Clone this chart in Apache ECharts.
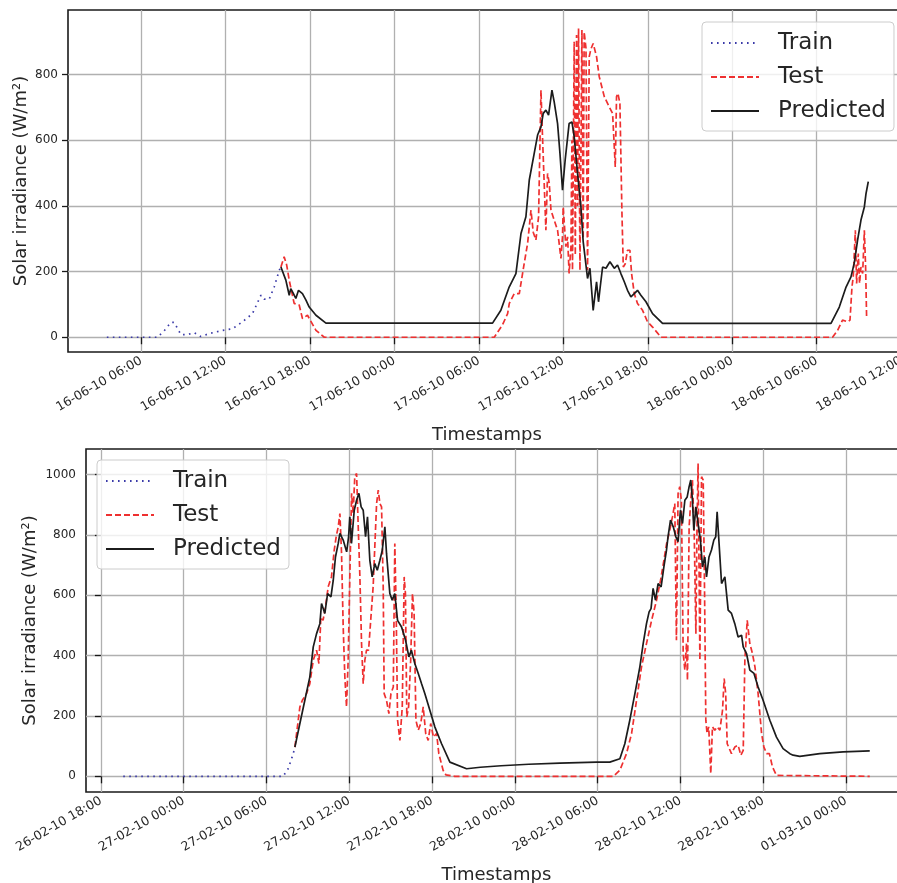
<!DOCTYPE html>
<html><head><meta charset="utf-8">
<script src="https://cdn.jsdelivr.net/npm/echarts@6/dist/echarts.min.js"></script>
<style>html,body{margin:0;padding:0;background:#fff}#c{width:897px;height:883px}</style>
</head><body><div id="c"></div>
<script>
// ===== Top chart (hours since 16-06-10 00:00) =====
const topTickHours = [6, 12, 18, 24, 30, 36, 42, 48, 54, 60];
const topTickLabels = ['16-06-10 06:00','16-06-10 12:00','16-06-10 18:00','17-06-10 00:00','17-06-10 06:00','17-06-10 12:00','17-06-10 18:00','18-06-10 00:00','18-06-10 06:00','18-06-10 12:00'];
const topYTicks = [0, 200, 400, 600, 800];

const tTrainTop = [3.56, 7.16, 7.64, 8.11, 8.35, 8.82, 9.29, 9.77, 10.24, 10.83, 11.78, 12.49, 13.2, 13.91, 14.51, 14.74, 15.1, 15.45, 15.81, 15.93];
const vTrainTop = [0, 0, 20, 45, 45, 8, 8, 14, 2, 11, 21, 26, 47, 72, 128, 116, 116, 153, 204, 214];

const tTestTop = [15.93, 16.16, 16.34, 16.52, 16.87, 17.23, 17.46, 17.82, 18.42, 19.01, 31.09, 31.68, 32.04, 32.16, 32.51, 32.87, 33.22, 33.46, 33.7, 33.86, 34.05, 34.24, 34.41, 34.52, 34.64, 34.76, 34.88, 35.0, 35.12, 35.35, 35.59, 35.83, 35.94, 35.99, 36.18, 36.3, 36.41, 36.54, 36.61, 36.65, 36.77, 36.85, 36.94, 37.01, 37.08, 37.18, 37.32, 37.41, 37.48, 37.61, 37.72, 37.84, 37.96, 38.12, 38.36, 38.55, 38.91, 39.26, 39.5, 39.69, 39.78, 39.88, 40.02, 40.16, 40.26, 40.4, 40.56, 40.73, 40.85, 41.04, 41.27, 41.63, 41.98, 42.34, 42.94, 55.13, 55.49, 55.84, 56.2, 56.37, 56.51, 56.6, 56.75, 56.84, 56.96, 57.05, 57.15, 57.27, 57.39, 57.48, 57.55];
const vTestTop = [214, 245, 220, 174, 103, 98, 57, 67, 21, 0, 0, 38, 72, 103, 133, 133, 225, 286, 387, 320, 296, 367, 753, 611, 468, 326, 499, 468, 387, 357, 326, 240, 306, 397, 276, 306, 194, 275, 600, 204, 900, 250, 921, 400, 941, 204, 936, 300, 930, 880, 204, 855, 878, 895, 855, 794, 733, 702, 682, 519, 733, 743, 712, 387, 214, 224, 265, 265, 194, 133, 103, 82, 47, 31, 0, 0, 21, 52, 47, 52, 153, 184, 326, 164, 255, 164, 214, 194, 326, 214, 62];

const tPredTop = [15.93, 16.28, 16.52, 16.63, 16.82, 16.99, 17.18, 17.46, 17.71, 17.94, 18.42, 19.13, 30.97, 31.56, 32.15, 32.63, 32.99, 33.34, 33.58, 33.93, 34.17, 34.41, 34.57, 34.76, 34.95, 35.19, 35.35, 35.59, 35.76, 35.94, 36.13, 36.41, 36.61, 36.77, 37.01, 37.25, 37.41, 37.72, 37.89, 38.12, 38.36, 38.5, 38.62, 38.79, 39.03, 39.31, 39.62, 39.85, 40.09, 40.33, 40.56, 40.8, 41.04, 41.27, 41.51, 41.87, 42.34, 43.05, 55.02, 55.61, 56.09, 56.44, 56.67, 56.91, 57.15, 57.39, 57.51, 57.67];
const vPredTop = [214, 174, 128, 148, 133, 118, 143, 133, 113, 92, 67, 43, 43, 82, 153, 194, 316, 367, 479, 560, 616, 641, 682, 692, 677, 753, 717, 651, 560, 448, 540, 651, 656, 611, 499, 397, 291, 179, 210, 82, 169, 108, 153, 214, 210, 230, 210, 220, 194, 169, 143, 123, 133, 143, 128, 108, 72, 42, 42, 92, 153, 184, 225, 296, 357, 397, 438, 474];

// ===== Bottom chart (hours since 26-02-10 18:00) =====
const botTickHours = [0, 6, 12, 18, 24, 30, 36, 42, 48, 54];
const botTickLabels = ['26-02-10 18:00','27-02-10 00:00','27-02-10 06:00','27-02-10 12:00','27-02-10 18:00','28-02-10 00:00','28-02-10 06:00','28-02-10 12:00','28-02-10 18:00','01-03-10 00:00'];
const botYTicks = [0, 200, 400, 600, 800, 1000];

const tTrainBot = [1.62, 13.21, 13.57, 13.94, 14.06];
const vTrainBot = [0, 0, 25, 75, 97];

const tTestBot = [14.06, 14.42, 14.6, 14.9, 15.14, 15.39, 15.63, 15.8, 15.94, 16.1, 16.28, 16.47, 16.71, 16.91, 17.05, 17.2, 17.32, 17.44, 17.56, 17.68, 17.8, 17.92, 18.04, 18.17, 18.28, 18.4, 18.53, 18.65, 18.77, 18.89, 19.01, 19.13, 19.25, 19.4, 19.57, 19.73, 19.86, 19.98, 20.1, 20.22, 20.34, 20.46, 20.53, 20.7, 20.87, 21.02, 21.19, 21.3, 21.4, 21.5, 21.67, 21.84, 21.98, 22.07, 22.17, 22.3, 22.45, 22.58, 22.7, 22.83, 23.0, 23.18, 23.36, 23.54, 23.72, 23.9, 24.1, 24.33, 24.49, 24.8, 25.0, 25.65, 37.13, 37.61, 38.09, 38.46, 38.82, 39.18, 39.54, 39.91, 40.27, 40.56, 40.8, 41.0, 41.23, 41.42, 41.59, 41.71, 41.83, 41.95, 42.07, 42.2, 42.32, 42.44, 42.51, 42.63, 42.75, 42.87, 43.0, 43.12, 43.2, 43.28, 43.41, 43.53, 43.65, 43.75, 43.84, 43.93, 44.05, 44.2, 44.32, 44.49, 44.66, 44.86, 45.05, 45.17, 45.28, 45.39, 45.7, 45.94, 46.18, 46.38, 46.55, 46.67, 46.84, 47.03, 47.22, 47.4, 47.63, 47.88, 48.05, 48.25, 48.45, 48.67, 48.96, 55.72];
const vTestBot = [97, 230, 252, 274, 307, 385, 418, 374, 528, 517, 562, 628, 661, 750, 794, 827, 871, 739, 495, 329, 230, 385, 661, 938, 871, 993, 1004, 827, 661, 440, 307, 385, 418, 418, 528, 628, 772, 904, 949, 904, 893, 628, 274, 252, 208, 274, 296, 772, 550, 186, 119, 230, 661, 606, 197, 230, 385, 606, 540, 186, 153, 175, 230, 142, 119, 175, 130, 142, 75, 20, 5, 0, 0, 20, 75, 142, 252, 363, 440, 517, 584, 650, 716, 772, 816, 860, 904, 451, 938, 960, 915, 407, 352, 440, 318, 827, 915, 982, 805, 473, 827, 1037, 385, 993, 982, 606, 186, 142, 164, 9, 164, 153, 164, 153, 219, 324, 274, 108, 75, 97, 103, 70, 86, 385, 517, 440, 407, 363, 274, 142, 97, 75, 75, 31, 3, 0];

const tPredBot = [14.06, 14.42, 14.78, 15.14, 15.39, 15.63, 15.87, 15.99, 16.23, 16.43, 16.67, 16.84, 17.0, 17.2, 17.32, 17.56, 17.81, 17.95, 18.04, 18.16, 18.36, 18.53, 18.7, 18.86, 19.01, 19.18, 19.32, 19.49, 19.66, 19.85, 20.03, 20.22, 20.39, 20.58, 20.7, 20.94, 21.11, 21.3, 21.5, 21.79, 22.08, 22.32, 22.5, 22.75, 23.0, 23.24, 23.48, 23.84, 24.2, 24.69, 25.29, 26.5, 27.5, 29.0, 31.0, 33.26, 35.92, 36.88, 37.61, 37.97, 38.33, 38.7, 39.06, 39.3, 39.54, 39.73, 39.87, 40.02, 40.19, 40.38, 40.6, 40.8, 40.99, 41.1, 41.28, 41.48, 41.67, 41.83, 42.0, 42.15, 42.32, 42.49, 42.63, 42.75, 42.87, 42.97, 43.12, 43.28, 43.45, 43.6, 43.77, 43.89, 44.07, 44.25, 44.42, 44.56, 44.66, 44.8, 44.98, 45.22, 45.46, 45.7, 45.94, 46.18, 46.43, 46.55, 46.79, 47.03, 47.33, 47.63, 47.99, 48.48, 48.96, 49.44, 49.93, 50.17, 50.65, 52.1, 53.79, 55.72];
const vPredBot = [97, 175, 252, 329, 429, 473, 506, 573, 540, 606, 595, 650, 727, 772, 805, 783, 744, 794, 860, 772, 882, 915, 938, 893, 882, 794, 860, 716, 661, 705, 683, 716, 749, 827, 738, 606, 584, 606, 517, 495, 451, 396, 418, 374, 341, 307, 274, 219, 164, 108, 47, 25, 30, 35, 40, 44, 47, 47, 58, 108, 186, 274, 363, 440, 506, 545, 556, 623, 584, 639, 628, 694, 750, 794, 849, 827, 794, 778, 882, 838, 915, 926, 960, 982, 915, 816, 893, 838, 783, 694, 727, 661, 727, 750, 783, 794, 877, 772, 639, 661, 551, 540, 506, 462, 468, 429, 407, 352, 341, 296, 252, 186, 130, 92, 75, 70, 66, 75, 81, 84];

const seriesNames = ['Train', 'Test', 'Predicted'];

// ===== build =====
function zip(t, v) { const n = Math.min(t.length, v.length); const o = []; for (let i = 0; i < n; i++) o.push([t[i], v[i]]); return o; }
const FONT = 'DejaVu Sans';
const TXT = '#262626';
const styles = {
  Train: { color: '#3a3aa8', width: 1.7, type: [1.6, 4.4] },
  Test: { color: '#ee3030', width: 1.7, type: [6, 3] },
  Predicted: { color: '#1c1c1c', width: 1.7, type: 'solid' }
};

function xAxisCfg(gi, min, max, ticks, labels, gap) {
  return {
    type: 'value', gridIndex: gi, min: min, max: max,
    name: 'Timestamps', nameLocation: 'middle', nameGap: gap,
    nameTextStyle: { fontFamily: FONT, fontSize: 18, color: TXT },
    axisLine: { show: false },
    axisTick: { show: true, length: 7, customValues: ticks, lineStyle: { color: '#1a1a1a', width: 1.3 } },
    axisLabel: { customValues: ticks, rotate: 30, margin: 8, fontFamily: FONT, fontSize: 12.5, color: TXT,
      formatter: function (v) { const i = ticks.indexOf(Math.round(v)); return i >= 0 ? labels[i] : ''; } },
    splitLine: { show: true, lineStyle: { color: '#b0b0b0', width: 1.3 } }
  };
}
function yAxisCfg(gi, min, max, ticks, gap) {
  return {
    type: 'value', gridIndex: gi, min: min, max: max,
    name: 'Solar irradiance (W/m²)', nameLocation: 'middle', nameGap: gap, nameRotate: 90,
    nameMoveOverlap: false,
    nameTextStyle: { fontFamily: FONT, fontSize: 18, color: TXT },
    axisLine: { show: false },
    axisTick: { show: true, length: 6, customValues: ticks, lineStyle: { color: '#1a1a1a', width: 1.3 } },
    axisLabel: { customValues: ticks, margin: 10, fontFamily: FONT, fontSize: 12, color: TXT,
      formatter: function (v) { return String(Math.round(v)); } },
    splitLine: { show: true, lineStyle: { color: '#b0b0b0', width: 1.3 } }
  };
}
function mkSeries(name, gi, t, v) {
  const s = styles[name];
  return {
    name: name, type: 'line', xAxisIndex: gi, yAxisIndex: gi,
    data: zip(t, v), symbol: 'none', showSymbol: false, animation: false,
    lineStyle: { color: s.color, width: s.width, type: s.type },
    itemStyle: { color: s.color }
  };
}
function legendCfg(left, top) {
  return {
    orient: 'vertical', left: left, top: top, itemWidth: 48, itemHeight: 14, itemGap: 8,
    padding: [8, 8, 7, 8], backgroundColor: 'rgba(255,255,255,0.8)',
    borderColor: '#cccccc', borderWidth: 1, borderRadius: 4,
    itemStyle: { opacity: 0 },
    textStyle: { fontFamily: FONT, fontSize: 23, color: TXT, lineHeight: 26, padding: [0, 0, 0, 14] },
    data: seriesNames, selectedMode: false
  };
}

const chart = echarts.init(document.getElementById('c'));
chart.setOption({
  backgroundColor: '#ffffff',
  animation: false,
  grid: [
    { left: 68, width: 838, top: 10, height: 342, show: true, borderColor: '#1a1a1a', borderWidth: 1.6, containLabel: false, outerBoundsMode: 'none' },
    { left: 86, width: 821, top: 449, height: 343, show: true, borderColor: '#1a1a1a', borderWidth: 1.6, containLabel: false, outerBoundsMode: 'none' }
  ],
  xAxis: [
    xAxisCfg(0, 0.8, 60.35, topTickHours, topTickLabels, 74),
    xAxisCfg(1, -1.08, 58.42, botTickHours, botTickLabels, 74)
  ],
  yAxis: [
    yAxisCfg(0, -45, 997, topYTicks, 38),
    yAxisCfg(1, -52, 1085, botYTicks, 47)
  ],
  legend: [legendCfg(702, 22), legendCfg(97, 460)],
  series: [
    mkSeries('Train', 0, tTrainTop, vTrainTop),
    mkSeries('Test', 0, tTestTop, vTestTop),
    mkSeries('Predicted', 0, tPredTop, vPredTop),
    mkSeries('Train', 1, tTrainBot, vTrainBot),
    mkSeries('Test', 1, tTestBot, vTestBot),
    mkSeries('Predicted', 1, tPredBot, vPredBot)
  ]
});
</script></body></html>
